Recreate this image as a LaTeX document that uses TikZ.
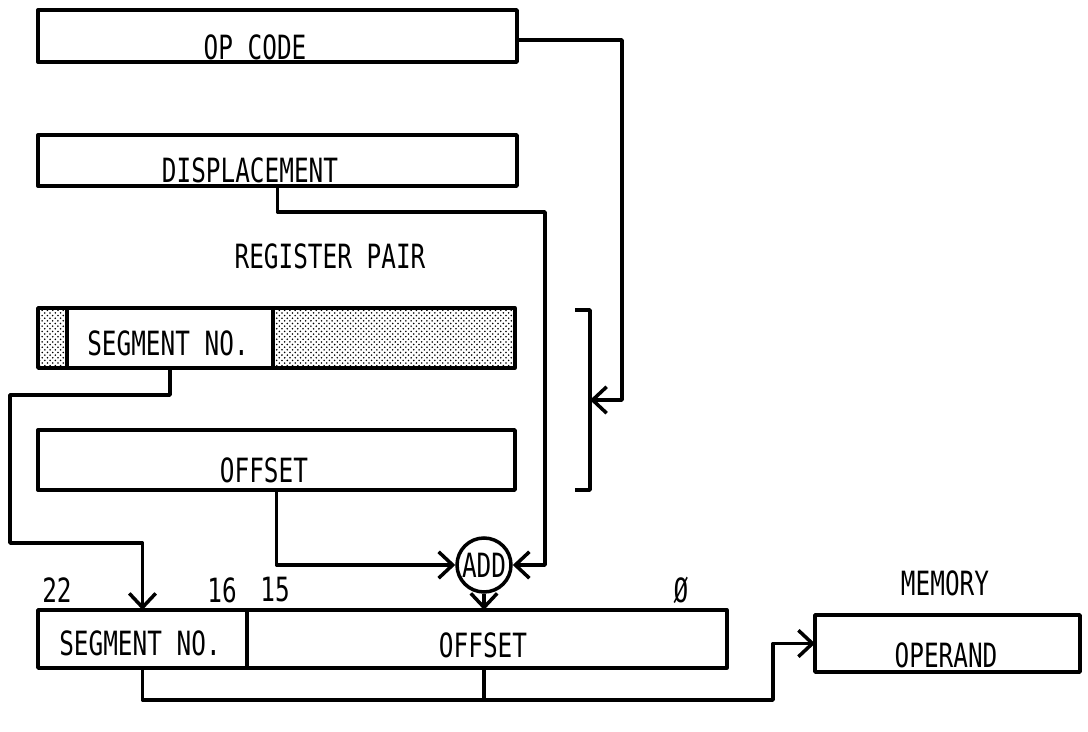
\documentclass[tikz,border=0pt]{standalone}
\usepackage{fontspec}
\setmainfont{DejaVu Sans Mono}[FakeStretch=0.73]
\usetikzlibrary{arrows.meta,patterns,positioning}

\begin{document}
\begin{tikzpicture}[x=0.02cm, y=-0.02cm, line width=2pt,
  field/.style={draw, rectangle, inner sep=0pt, outer sep=0pt, line join=round},
  dots/.style={pattern=crosshatch dots, pattern color=black},
  lbl/.style={font=\fontsize{19}{21}\selectfont, inner sep=0pt},
  wire/.style={line width=2pt, line join=round},
  arr/.style={wire, -{Straight Barb[length=8pt,width=15pt,line width=2pt]}}]
  \useasboundingbox (0,0) rectangle (1088,732);
  % instruction words
  \node[field, minimum width=9.58cm, minimum height=1.04cm] (opcode) at (277.5,36) {};
  \node[lbl] (opcodetxt) at (255,47) {OP CODE};
  \node[field, minimum width=9.58cm, minimum height=1.02cm] (disp) at (277.5,160.5) {};
  \node[lbl] (disptxt) at (250,170) {DISPLACEMENT};
  % register pair
  \node[lbl] (regtxt) at (330,256) {REGISTER PAIR};
  \node[field, dots, minimum width=0.58cm, minimum height=1.2cm] (reglo) at (52.5,338) {};
  \node[field, right=0pt of reglo, minimum width=4.12cm, minimum height=1.2cm] (regseg) {};
  \node[field, dots, right=0pt of regseg, minimum width=4.84cm, minimum height=1.2cm] (reghi) {};
  \node[lbl] (regsegtxt) at (168,343) {SEGMENT NO.};
  \node[field, minimum width=9.54cm, minimum height=1.2cm] (offset) at (276.5,460) {};
  \node[lbl] (offsettxt) at (264,470) {OFFSET};
  % bracket round the pair
  \draw[wire] (575,310) -- (590,310) -- (590,490) -- (575,490);
  \coordinate (brk) at (590,400);
  % adder
  \node[draw, circle, minimum size=1.08cm, inner sep=0pt, lbl] (add) at (484,565) {ADD};
  % virtual address
  \node[field, minimum width=4.18cm, minimum height=1.16cm] (addrseg) at (142.5,639) {};
  \node[field, right=0pt of addrseg, minimum width=9.6cm, minimum height=1.16cm] (addroff) {};
  \node[lbl] (addrsegtxt) at (140,643) {SEGMENT NO.};
  \node[lbl] (addrofftxt) at (483,645) {OFFSET};
  \node[lbl] (b22) at (57,590) {22};
  \node[lbl] (b16) at (222,590) {16};
  \node[lbl] (b15) at (275,590) {15};
  \node[lbl] (b0) at (681,590) {Ø};
  % memory
  \node[field, minimum width=5.3cm, minimum height=1.14cm] (mem) at (947.5,643.5) {};
  \node[lbl] (memtxt) at (945,583) {MEMORY};
  \node[lbl] (memoptxt) at (946,655) {OPERAND};
  % connectors
  \coordinate (opturn) at (622,400);
  \draw[arr] ([yshift=-0.08cm]opcode.east) -| (opturn) -- (brk);
  \coordinate (dispturn) at (545,212);
  \draw[arr] (disp.south) |- (dispturn) |- (add.east);
  \coordinate (segl) at (10,395);
  \coordinate (segr) at (10,543);
  \draw[arr] (regseg.south) |- (segl) -- (segr) -| (addrseg.north);
  \draw[arr] (offset.south) |- (add.west);
  \draw[arr] (add.south) -- (add.south |- addroff.north);
  \coordinate (bus) at (773,700);
  \draw[arr] (addrseg.south) |- (bus) |- (mem.west);
  \draw[wire] (add |- addroff.south) -- (add |- bus);
\end{tikzpicture}
\end{document}
